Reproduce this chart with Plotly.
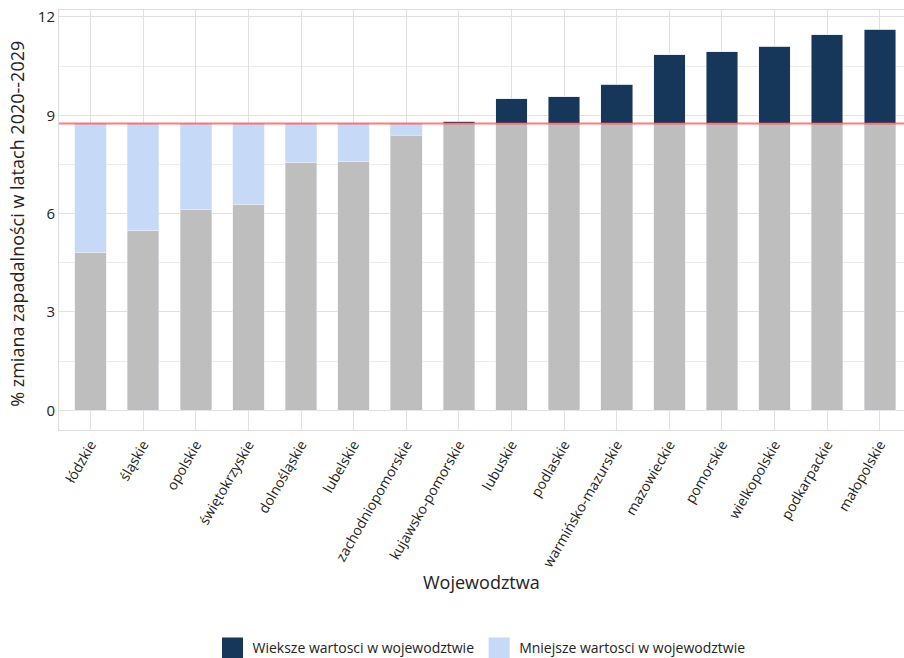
import plotly.graph_objects as go

wojewodztwa = ["łódzkie", "śląskie", "opolskie", "świętokrzyskie", "dolnośląskie",
               "lubelskie", "zachodniopomorskie", "kujawsko-pomorskie", "lubuskie",
               "podlaskie", "warmińsko-mazurskie", "mazowieckie", "pomorskie",
               "wielkopolskie", "podkarpackie", "małopolskie"]
zmiana = [4.82, 5.50, 6.14, 6.29, 7.57, 7.60, 8.37, 8.82, 9.50,
          9.56, 9.95, 10.84, 10.93, 11.11, 11.45, 11.63]
srednia_krajowa = 8.75

kolor_wieksze = "#16365a"
kolor_mniejsze = "#c6daf7"

# split each bar into: grey base, gap below the national mean, excess above it
baza = [min(v, srednia_krajowa) for v in zmiana]
mniejsze = [max(srednia_krajowa - v, 0) for v in zmiana]
wieksze = [max(v - srednia_krajowa, 0) for v in zmiana]

fig = go.Figure()
fig.add_trace(go.Bar(x=wojewodztwa, y=baza, marker_color="#bebebe",
                     showlegend=False, width=0.6))
fig.add_trace(go.Bar(x=wojewodztwa, y=wieksze, marker_color=kolor_wieksze,
                     showlegend=False, width=0.6))
fig.add_trace(go.Bar(x=wojewodztwa, y=mniejsze, marker_color=kolor_mniejsze,
                     showlegend=False, width=0.6))

fig.add_hline(y=srednia_krajowa, line=dict(color="rgba(255,70,70,0.7)", width=2))

# legend-only entries with big square keys (bar keys are tiny in plotly)
for nazwa, kolor in [("Wieksze wartosci w wojewodztwie", kolor_wieksze),
                     ("Mniejsze wartosci w wojewodztwie", kolor_mniejsze)]:
    fig.add_trace(go.Scatter(x=[None], y=[None], mode="markers", name=nazwa,
                             marker=dict(symbol="square", size=16, color=kolor,
                                         line=dict(color=kolor, width=5))))

# axis titles as annotations so they sit where the reference has them
fig.add_annotation(text="Wojewodztwa", xref="paper", yref="paper", x=0.5, y=-0.362,
                   xanchor="center", yanchor="middle", showarrow=False,
                   font=dict(size=18))
fig.add_annotation(text="% zmiana zapadalności w latach 2020--2029", xref="paper", yref="paper",
                   x=-0.049, y=0.49, xanchor="center", yanchor="middle", showarrow=False,
                   textangle=-90, font=dict(size=18))

fig.update_layout(
    barmode="stack",
    width=904, height=658,
    plot_bgcolor="white", paper_bgcolor="white",
    font=dict(family="Open Sans", color="#222"),
    margin=dict(l=59, r=0, t=10, b=228, autoexpand=False),
    bargap=0.4,
    legend=dict(orientation="h", x=0.5, xanchor="center", y=-0.52, yanchor="middle",
                font=dict(size=14), traceorder="normal", itemwidth=30, itemsizing="trace"),
    xaxis=dict(
        range=[-0.6, 15.46], automargin=False,
        tickangle=-60, tickfont=dict(size=14),
        showgrid=True, gridcolor="#e0e0e0",
        showline=True, linecolor="#dddddd", mirror=True,
        ticks="", zeroline=False,
    ),
    yaxis=dict(
        range=[-0.6, 12.21], automargin=False,
        tickvals=[0, 3, 6, 9, 12], tickfont=dict(size=15),
        showgrid=True, gridcolor="#e0e0e0",
        minor=dict(dtick=1.5, tick0=0, showgrid=True, gridcolor="#ececec"),
        showline=True, linecolor="#dddddd", mirror=True,
        zeroline=False, ticks="",
    ),
)

# the page body has a default 8px margin; drop it so the figure fills the window
fig.write_html("out.html", config={"displayModeBar": False},
               post_script="document.body.style.margin='0';")
